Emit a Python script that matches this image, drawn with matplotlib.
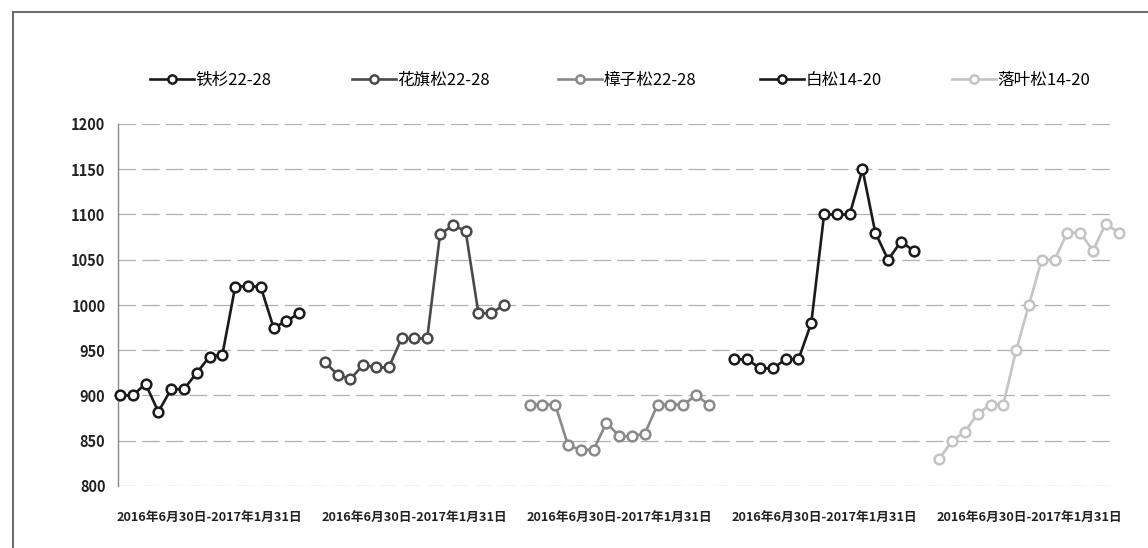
import numpy as np
import matplotlib.pyplot as plt
from matplotlib.patches import Rectangle

plt.rcParams['font.family'] = ['Noto Sans CJK SC', 'DejaVu Sans']

# data, 15 points per series
names = ["铁杉22-28", "花旗松22-28", "樟子松22-28", "白松14-20", "落叶松14-20"]
tieshan = [900, 900, 913, 882, 907, 907, 925, 943, 945, 1020, 1021, 1020, 975, 982, 991]
huaqisong = [937, 923, 918, 934, 931, 931, 963, 963, 963, 1078, 1088, 1082, 991, 991, 1000]
zhangzisong = [890, 890, 890, 845, 840, 840, 870, 855, 855, 858, 890, 890, 890, 900, 890]
baisong = [940, 940, 930, 930, 940, 940, 980, 1100, 1100, 1100, 1150, 1080, 1050, 1070, 1060]
luoyesong = [830, 850, 860, 880, 890, 890, 950, 1000, 1050, 1050, 1080, 1080, 1060, 1090, 1080]
period = "2016年6月30日-2017年1月31日"
yticks = [800, 850, 900, 950, 1000, 1050, 1100, 1150, 1200]

series = [tieshan, huaqisong, zhangzisong, baisong, luoyesong]
colors = ['#1a1a1a', '#4a4a4a', '#8a8a8a', '#1a1a1a', '#c4c4c4']
slot = 16  # 15 dates plus one empty category between groups

fig = plt.figure(figsize=(11.48, 5.48), dpi=100)
ax = fig.add_axes([118/1148, 1 - 486/548, 998/1148, 362/548])

handles = []
for i in range(5):
    x = np.arange(len(series[i])) + slot*i
    h, = ax.plot(x, series[i], color=colors[i], lw=1.9, marker='o', ms=7,
                 mfc='white', mec=colors[i], mew=1.8, zorder=3, clip_on=False)
    handles.append(h)

ax.set_ylim(800, 1200)
ax.set_xlim(-0.15, 77.8)
ax.set_yticks(yticks)
ax.set_yticklabels([str(v) for v in yticks], fontsize=10.5, fontweight='bold', color='#222222')
ax.set_xticks([7 + slot*i for i in range(5)])
ax.set_xticklabels([period]*5, fontsize=9.2, fontweight='bold', color='#222222')
ax.tick_params(axis='both', length=0)
ax.tick_params(axis='y', pad=9)
ax.tick_params(axis='x', pad=18)
ax.grid(axis='y', color='#b0b0b0', lw=0.9, linestyle=(0, (14, 5)))
for s in ['top', 'right', 'bottom']:
    ax.spines[s].set_visible(False)
ax.spines['left'].set_color('#888888')
ax.spines['left'].set_linewidth(1.0)

# legend entries spread along the top
leg_x = [155, 357, 563, 765, 957]
for i in range(5):
    fig.legend([handles[i]], [names[i]], loc='center left',
               bbox_to_anchor=(leg_x[i]/1148 - 0.004, 1 - 80/548), frameon=False,
               fontsize=12, handlelength=2.6, handletextpad=0.1, markerscale=0.85,
               borderpad=0, borderaxespad=0)

# outer frame of the chart
fig.add_artist(Rectangle((13/1148, -0.1), 1.2, 1 - 12/548 + 0.1,
                         transform=fig.transFigure, fill=False,
                         edgecolor='#6e6e6e', lw=1.5))

plt.savefig('out.png', dpi=100)
